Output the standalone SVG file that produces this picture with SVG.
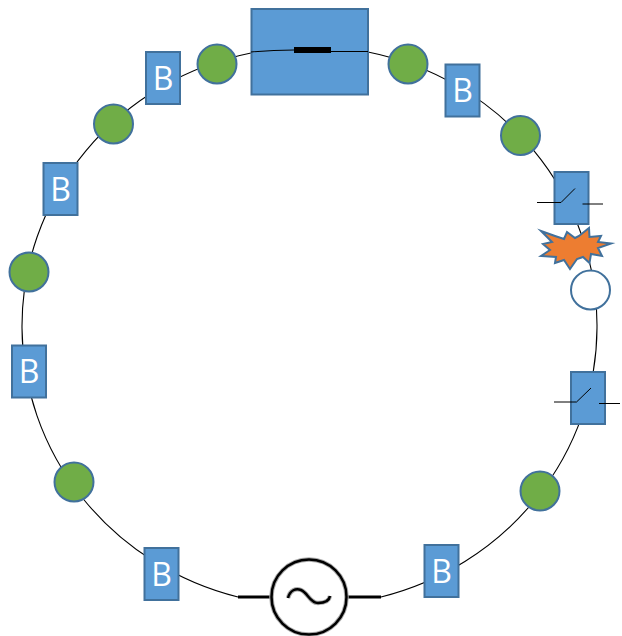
<svg xmlns="http://www.w3.org/2000/svg" width="622" height="636" viewBox="0 0 622 636">
<style>
.b{fill:#5b9bd5;stroke:#41719c;stroke-width:2}
.g{fill:#70ad47;stroke:#41719c;stroke-width:2}
.w{fill:none;stroke:#000;stroke-width:1.100}
.s{fill:none;stroke:#000;stroke-width:1}
.t{font-family:"Open Sans","Liberation Sans",sans-serif;font-size:32px;fill:#fff;text-anchor:middle}
.h{fill:none;stroke:#aaa;stroke-width:4.500}
.k{fill:none;stroke:#000;stroke-width:2.500}
</style>
<g id="connectors">
<path class="w" d="M381 597A287.500 279 0 0 0 597 328A287.500 279 0 0 0 368 52"/>
<path class="w" d="M251 53A287.500 279 0 0 0 22 328A287.500 279 0 0 0 238 597"/>
</g>
<g id="breaker-top">
<rect class="b" x="251.500" y="9" width="116.500" height="85.500"/>
<path class="w" d="M251 52Q272 50 294 50M331 51.500H368"/>
<rect x="294" y="47" width="37" height="6" fill="#000"/>
</g>
<g id="n1"><circle class="g" cx="217" cy="64" r="19.500"/></g>
<g id="n2"><circle class="g" cx="408" cy="64" r="19.500"/></g>
<g id="n3"><rect class="b" x="445.500" y="64.500" width="34" height="52"/><text class="t" x="462.500" y="102">B</text></g>
<g id="n4"><circle class="g" cx="520.500" cy="135.500" r="19.500"/></g>
<g id="n5"><rect class="b" x="146" y="52" width="34" height="52"/><text class="t" x="163" y="90">B</text></g>
<g id="n6"><circle class="g" cx="113.500" cy="124" r="19.500"/></g>
<g id="n7"><rect class="b" x="43.500" y="163" width="34" height="52"/><text class="t" x="60.500" y="201">B</text></g>
<g id="n8"><circle class="g" cx="29" cy="272" r="19.500"/></g>
<g id="n9"><rect class="b" x="12" y="345.500" width="34" height="52"/><text class="t" x="29" y="383">B</text></g>
<g id="n10"><circle class="g" cx="74" cy="482" r="19.500"/></g>
<g id="n11"><rect class="b" x="144.500" y="548" width="34" height="52"/><text class="t" x="161.500" y="586">B</text></g>
<g id="n12"><rect class="b" x="424.500" y="545" width="34" height="52"/><text class="t" x="441.500" y="583">B</text></g>
<g id="n13"><circle class="g" cx="540" cy="491" r="19.500"/></g>
<g id="switch1">
<rect class="b" x="554.500" y="172" width="34" height="52"/>
<path class="s" d="M537 202.500H561L575 188.500M582.500 204H603"/>
</g>
<g id="switch2">
<rect class="b" x="571" y="372" width="34" height="52"/>
<path class="s" d="M554 402H576.500L591 388M599 403.500H620"/>
</g>
<g id="fault">
<polygon points="541,231 555,236 564,239 567,232 575,238 579,236 589,228 589.500,237 601,236 598,242 611,243.500 598,248 602,256 591,254 589.500,263 583,257 577,259 570,269 564,260 555,263 556,257 541,256 550,250 543,244 552,242" fill="#ed7d31" stroke="#41719c" stroke-width="2" stroke-miterlimit="20"/>
</g>
<g id="open-node"><circle cx="590.500" cy="290" r="19.500" fill="#fff" stroke="#41719c" stroke-width="2"/></g>
<g id="source">
<path d="M238 597H271M347 597H381" fill="none" stroke="#000" stroke-width="3"/>
<circle cx="309" cy="597" r="37.500" fill="#fff"/>
<circle class="h" cx="309" cy="597" r="37.500"/>
<circle class="k" cx="309" cy="597" r="37.500"/>
<path class="h" d="M288 598C290 590 296 588 301 590C308 593 310 603 318 603C323 603 329 602 330 596"/>
<path class="k" d="M288 598C290 590 296 588 301 590C308 593 310 603 318 603C323 603 329 602 330 596"/>
</g>
</svg>
